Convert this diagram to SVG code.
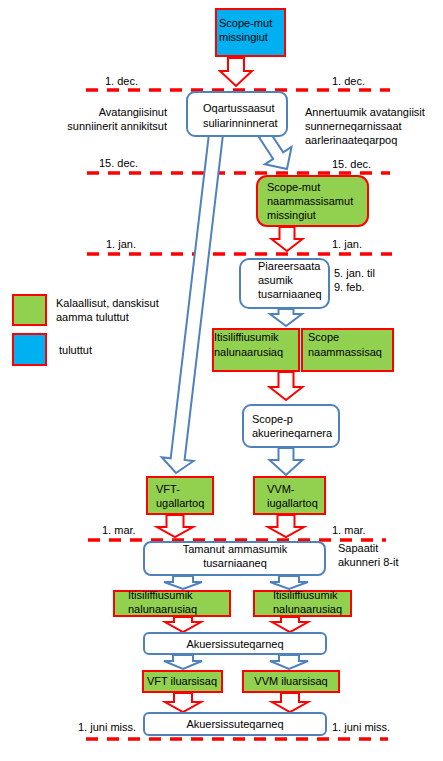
<svg xmlns="http://www.w3.org/2000/svg" width="443" height="761" viewBox="0 0 443 761">
<style>
text{font-family:"Liberation Sans",Arial,sans-serif;font-size:11px;fill:#000}
.mid{text-anchor:middle}
.end{text-anchor:end}
.dash{stroke:#FF0000;stroke-width:3.5;stroke-dasharray:12 9;fill:none}
.ra{fill:#fff;stroke:#FF0000;stroke-width:2;stroke-linejoin:miter}
.ba{fill:#fff;stroke:#4F81BD;stroke-width:2;stroke-linejoin:miter}
.g{fill:#92D050;stroke:#FF0000;stroke-width:2}
.b{fill:#00B0F0;stroke:#FF0000;stroke-width:2}
.w{fill:#fff;stroke:#4F81BD;stroke-width:2}
</style>
<rect width="443" height="761" fill="#fff"/>
<g id="timeline">
<line class="dash" x1="86" y1="90" x2="390" y2="90"/>
<line class="dash" x1="87" y1="173" x2="390" y2="173"/>
<line class="dash" x1="87" y1="254" x2="392" y2="254"/>
<line class="dash" x1="88" y1="540" x2="386" y2="540"/>
<line class="dash" x1="86" y1="739" x2="388" y2="739"/>
</g>
<g id="connectors">
<path class="ra" d="M228,58 L244,58 L244,71 L252,71 L236,86 L220,71 L228,71 Z"/>
<path class="ba" d="M269,130.7 L283.2,152.3 L291.5,146.9 L287,169 L264.9,164.3 L273.2,158.9 L259,137.3 Z"/>
<path class="ba" d="M222.95,134.82 L184.59,459.92 L193.53,460.98 L176,473 L161.75,457.22 L170.69,458.28 L209.05,133.18 Z"/>
<path class="ra" d="M279.5,227 L294.5,227 L294.5,239 L302.5,239 L287,251 L271.5,239 L279.5,239 Z"/>
<path class="ba" d="M278.5,309 L293.5,309 L293.5,314 L302,314 L286,326 L270,314 L278.5,314 Z"/>
<path class="ra" d="M278.5,372 L293.5,372 L293.5,387 L302.5,387 L286,400 L269.5,387 L278.5,387 Z"/>
<path class="ba" d="M278.5,448 L293.5,448 L293.5,460 L302.5,460 L286,475 L269.5,460 L278.5,460 Z"/>
<path class="ra" d="M166.5,515 L183.5,515 L183.5,527 L193,527 L175,537 L157,527 L166.5,527 Z"/>
<path class="ra" d="M277.5,515 L294.5,515 L294.5,527 L304,527 L286,537 L268,527 L277.5,527 Z"/>
<path class="ba" d="M173,576 L193,576 L193,582 L202,582 L183,589 L164,582 L173,582 Z"/>
<path class="ba" d="M279,576 L299,576 L299,582 L308,582 L289,589 L270,582 L279,582 Z"/>
<path class="ra" d="M174,617 L192,617 L192,622 L201,622 L183,632 L165,622 L174,622 Z"/>
<path class="ra" d="M281,617 L299,617 L299,622 L308,622 L290,632 L272,622 L281,622 Z"/>
<path class="ba" d="M173,655 L193,655 L193,661 L202,661 L183,669 L164,661 L173,661 Z"/>
<path class="ba" d="M279,655 L299,655 L299,661 L308,661 L289,669 L270,661 L279,661 Z"/>
<path class="ra" d="M174,693 L192,693 L192,702 L201,702 L183,712 L165,702 L174,702 Z"/>
<path class="ra" d="M281,693 L299,693 L299,702 L308,702 L290,712 L272,702 L281,702 Z"/>
</g>
<g id="n_scope_missingiut">
<rect class="b" x="216" y="9" width="69" height="47"/>
<text x="219" y="27">Scope-mut</text>
<text x="219" y="41">missingiut</text>
</g>
<g id="n_oqartussaasut">
<rect class="w" x="187" y="92" width="100" height="44" rx="8"/>
<text x="203" y="112">Oqartussaasut</text>
<text x="203" y="127">suliarinninnerat</text>
</g>
<g id="n_scope_naammassisamut">
<rect class="g" x="257" y="176" width="111" height="50" rx="10"/>
<text x="267" y="191">Scope-mut</text>
<text x="267" y="205">naammassisamut</text>
<text x="267" y="219">missingiut</text>
</g>
<g id="n_piareersaata">
<rect class="w" x="240" y="259" width="89" height="49" rx="9"/>
<text x="258" y="270">Piareersaata</text>
<text x="258" y="284">asumik</text>
<text x="258" y="298">tusarniaaneq</text>
</g>
<g id="n_itisiliffiusumik_1">
<rect class="g" x="213" y="329" width="86" height="42"/>
<text x="214" y="341">Itisiliffiusumik</text>
<text x="214" y="356">nalunaarusiaq</text>
</g>
<g id="n_scope_naammassisaq">
<rect class="g" x="302" y="329" width="91" height="42"/>
<text x="308" y="341">Scope</text>
<text x="308" y="356">naammassisaq</text>
</g>
<g id="n_scope_p">
<rect class="w" x="243" y="405" width="96" height="42" rx="8"/>
<text x="252" y="423">Scope-p</text>
<text x="252" y="437">akuerineqarnera</text>
</g>
<g id="n_vft_ugallartoq">
<rect class="g" x="147" y="477" width="66" height="37"/>
<text x="156" y="493">VFT-</text>
<text x="156" y="507">ugallartoq</text>
</g>
<g id="n_vvm_iugallartoq">
<rect class="g" x="254" y="477" width="71" height="37"/>
<text x="267" y="493">VVM-</text>
<text x="267" y="507">iugallartoq</text>
</g>
<g id="n_tamanut">
<rect class="w" x="144" y="542" width="181" height="33" rx="7"/>
<text class="mid" x="235" y="553">Tamanut ammasumik</text>
<text class="mid" x="235" y="567">tusarniaaneq</text>
</g>
<g id="n_itisiliffiusumik_2">
<rect class="g" x="114" y="591" width="116" height="25"/>
<text x="128" y="599">Itisiliffiusumik</text>
<text x="128" y="613">nalunaarusiaq</text>
</g>
<g id="n_itisiliffiusumik_3">
<rect class="g" x="254" y="591" width="97" height="25"/>
<text x="273" y="599">Itisiliffiusumik</text>
<text x="273" y="613">nalunaarusiaq</text>
</g>
<g id="n_akuersissuteqarneq_1">
<rect class="w" x="144" y="633" width="182" height="21" rx="5"/>
<text class="mid" x="235" y="648">Akuersissuteqarneq</text>
</g>
<g id="n_vft_iluarsisaq">
<rect class="g" x="143" y="671" width="79" height="21"/>
<text class="mid" x="182" y="685">VFT iluarsisaq</text>
</g>
<g id="n_vvm_iluarsisaq">
<rect class="g" x="243" y="671" width="96" height="21"/>
<text class="mid" x="291" y="685">VVM iluarsisaq</text>
</g>
<g id="n_akuersissuteqarneq_2">
<rect class="w" x="144" y="713" width="182" height="22" rx="5"/>
<text class="mid" x="235" y="728">Akuersissuteqarneq</text>
</g>
<g id="legend">
<rect class="g" x="13" y="295" width="33" height="30"/>
<text x="56" y="307">Kalaallisut, danskisut</text>
<text x="56" y="321">aamma tuluttut</text>
<rect class="b" x="13" y="334" width="33" height="31"/>
<text x="59" y="354">tuluttut</text>
</g>
<g id="labels">
<text x="105" y="85">1. dec.</text>
<text x="332" y="85">1. dec.</text>
<text class="end" x="167" y="116">Avatangiisinut</text>
<text class="end" x="167" y="130">sunniinerit annikitsut</text>
<text x="305" y="116">Annertuumik avatangiisit</text>
<text x="305" y="130">sunnerneqarnissaat</text>
<text x="305" y="144">aarlerinaateqarpoq</text>
<text x="99" y="167">15. dec.</text>
<text x="332" y="168">15. dec.</text>
<text x="106" y="248">1. jan.</text>
<text x="332" y="248">1. jan.</text>
<text x="334" y="277">5. jan. til</text>
<text x="334" y="291">9. feb.</text>
<text x="102" y="534">1. mar.</text>
<text x="332" y="534">1. mar.</text>
<text x="338" y="552">Sapaatit</text>
<text x="338" y="566">akunneri 8-it</text>
<text x="78" y="731">1. juni miss.</text>
<text x="332" y="731">1. juni miss.</text>
</g>
</svg>
